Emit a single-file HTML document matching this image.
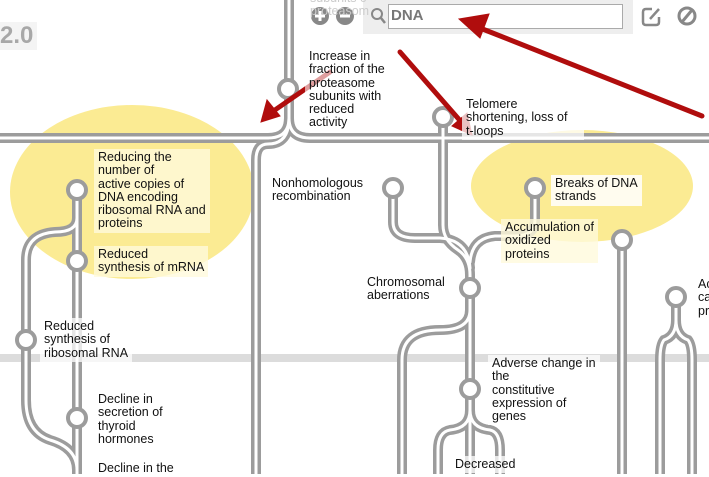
<!DOCTYPE html>
<html><head><meta charset="utf-8"><style>
html,body{margin:0;padding:0;background:#fff;}
body{width:709px;height:474px;overflow:hidden;position:relative;font-family:"Liberation Sans",Arial,sans-serif;}
svg{position:absolute;left:0;top:0;}
.l{position:absolute;font-size:12.5px;line-height:13.3px;color:#111;background:rgba(255,255,255,0.75);padding:2px 4px;}
.y{background:rgba(255,250,220,0.8);}
</style></head><body>
<svg width="709" height="474" viewBox="0 0 709 474">
<ellipse cx="132" cy="192" rx="122" ry="87" fill="#fbeb93"/>
<ellipse cx="582" cy="186" rx="111" ry="56" fill="#fbeb93"/>
<line x1="0" y1="358" x2="709" y2="358" stroke="#dcdcdc" stroke-width="8"/>
<g fill="none" stroke-linecap="round">
<g stroke="#9c9c9c" stroke-width="10">
<path d="M0 138 H268 Q289 138 289 118 V0"/>
<path d="M289 0 V118 Q289 138 310 138 H709"/>
<path d="M289 118 Q289 144 268 144 Q256 144 256 160 V474"/>
<path d="M443 117 V225 Q443 240 458 250 Q470 258 470 275 V474"/>
<path d="M393 188 V222 Q393 238 415 238 H440 Q468 240 470 268"/>
<path d="M535 188 V220 Q535 236 515 236 H495 Q472 238 470 262"/>
<path d="M470 310 Q470 330 440 330 Q402 330 402 360 V474"/>
<path d="M470 410 Q470 428 450 430 Q438 432 438 450 V474"/>
<path d="M470 410 Q470 428 490 430 Q500 432 500 450 V474"/>
<path d="M622 240 V474"/>
<path d="M676 297 V320 Q676 336 664 340 Q660 345 660 360 V474"/>
<path d="M676 297 V320 Q676 336 688 340 Q692 345 692 360 V474"/>
<path d="M77 190 V474"/>
<path d="M77 218 Q77 232 55 232 Q26 234 26 260 V400 Q26 432 50 440 Q77 448 77 470"/>
</g>
<g stroke="#fff" stroke-width="3">
<path d="M0 138 H268 Q289 138 289 118 V0"/>
<path d="M289 0 V118 Q289 138 310 138 H709"/>
<path d="M289 118 Q289 144 268 144 Q256 144 256 160 V474"/>
<path d="M443 117 V225 Q443 240 458 250 Q470 258 470 275 V474"/>
<path d="M393 188 V222 Q393 238 415 238 H440 Q468 240 470 268"/>
<path d="M535 188 V220 Q535 236 515 236 H495 Q472 238 470 262"/>
<path d="M470 310 Q470 330 440 330 Q402 330 402 360 V474"/>
<path d="M470 410 Q470 428 450 430 Q438 432 438 450 V474"/>
<path d="M470 410 Q470 428 490 430 Q500 432 500 450 V474"/>
<path d="M622 240 V474"/>
<path d="M676 297 V320 Q676 336 664 340 Q660 345 660 360 V474"/>
<path d="M676 297 V320 Q676 336 688 340 Q692 345 692 360 V474"/>
<path d="M77 190 V474"/>
<path d="M77 218 Q77 232 55 232 Q26 234 26 260 V400 Q26 432 50 440 Q77 448 77 470"/>
</g>
</g>
<g fill="#fff" stroke="#9c9c9c" stroke-width="4">
<circle cx="288" cy="89" r="9"/><circle cx="443" cy="117" r="9"/>
<circle cx="77" cy="190" r="9"/><circle cx="77" cy="261" r="9"/><circle cx="26" cy="340" r="9"/><circle cx="77" cy="418" r="9"/>
<circle cx="393" cy="188" r="9"/><circle cx="535" cy="188" r="9"/><circle cx="470" cy="288" r="9"/><circle cx="622" cy="240" r="9"/><circle cx="676" cy="297" r="9"/><circle cx="470" cy="389" r="9"/>
</g>
<rect x="363" y="0" width="270" height="34" fill="#eeeeee"/>
<rect x="388.5" y="4.5" width="234" height="24" fill="#fff" stroke="#aaa"/>
<circle cx="377" cy="14" r="5" fill="none" stroke="#888" stroke-width="2"/><line x1="381" y1="18" x2="385" y2="23" stroke="#888" stroke-width="2.5"/>
<circle cx="320" cy="16" r="9" fill="#888"/><path d="M320 11 V21 M315 16 H325" stroke="#fff" stroke-width="3"/>
<circle cx="345" cy="16" r="9" fill="#888"/><path d="M340 16 H350" stroke="#fff" stroke-width="3"/>
<path d="M652 9 H646 Q643 9 643 12 V22 Q643 25 646 25 H656 Q659 25 659 22 V17" fill="none" stroke="#888" stroke-width="2.5"/>
<path d="M650 19 L659 9" stroke="#888" stroke-width="2.5"/>
<circle cx="687" cy="16" r="8" fill="none" stroke="#888" stroke-width="3"/><line x1="682" y1="22" x2="692" y2="10" stroke="#888" stroke-width="3"/>
<g stroke="#b00d0d" stroke-linecap="round" fill="#b00d0d">
<path d="M702 116 L480 28" stroke-width="5"/><path d="M459 19 L489 14 L480 38 Z"/>
<path d="M400 52 L463 124" stroke-width="5"/><path d="M472 135 L452 126 L467 113 Z"/>
<path d="M330 72 L272 112" stroke-width="5"/><path d="M261 122 L267 100 L280 116 Z"/>
</g>
</svg>
<div style="position:absolute;left:0;top:22px;font-size:24px;font-weight:bold;color:#a8a8a8;background:#f4f4f4;padding:0 4px 0 0">2.0</div>
<div style="position:absolute;left:310px;top:-8px;font-size:12.5px;line-height:13px;color:#ccc">subunits c<br>proteasom</div>
<div style="position:absolute;left:391px;top:7px;font-size:15px;font-weight:bold;color:#777">DNA</div>
<div class="l" style="left:305px;top:48px;background:rgba(255,255,255,0.6)">Increase in<br>fraction of the<br>proteasome<br>subunits with<br>reduced<br>activity</div>
<div class="l" style="left:462px;top:96px;width:114px">Telomere<br>shortening, loss of<br>t-loops</div>
<div class="l y" style="left:94px;top:149px">Reducing the<br>number of<br>active copies of<br>DNA encoding<br>ribosomal RNA and<br>proteins</div>
<div class="l y" style="left:94px;top:246px">Reduced<br>synthesis of mRNA</div>
<div class="l" style="left:40px;top:318px">Reduced<br>synthesis of<br>ribosomal RNA</div>
<div class="l" style="left:94px;top:391px">Decline in<br>secretion of<br>thyroid<br>hormones</div>
<div class="l" style="left:94px;top:460px">Decline in the</div>
<div class="l" style="left:268px;top:175px">Nonhomologous<br>recombination</div>
<div class="l" style="left:363px;top:274px">Chromosomal<br>aberrations</div>
<div class="l" style="left:551px;top:175px;background:rgba(255,255,255,0.85)">Breaks of DNA<br>strands</div>
<div class="l y" style="left:501px;top:219px">Accumulation of<br>oxidized<br>proteins</div>
<div class="l" style="left:488px;top:355px">Adverse change in<br>the<br>constitutive<br>expression of<br>genes</div>
<div class="l" style="left:451px;top:456px">Decreased</div>
<div class="l" style="left:694px;top:276px">Ac<br>ca<br>pr</div>
</body></html>
